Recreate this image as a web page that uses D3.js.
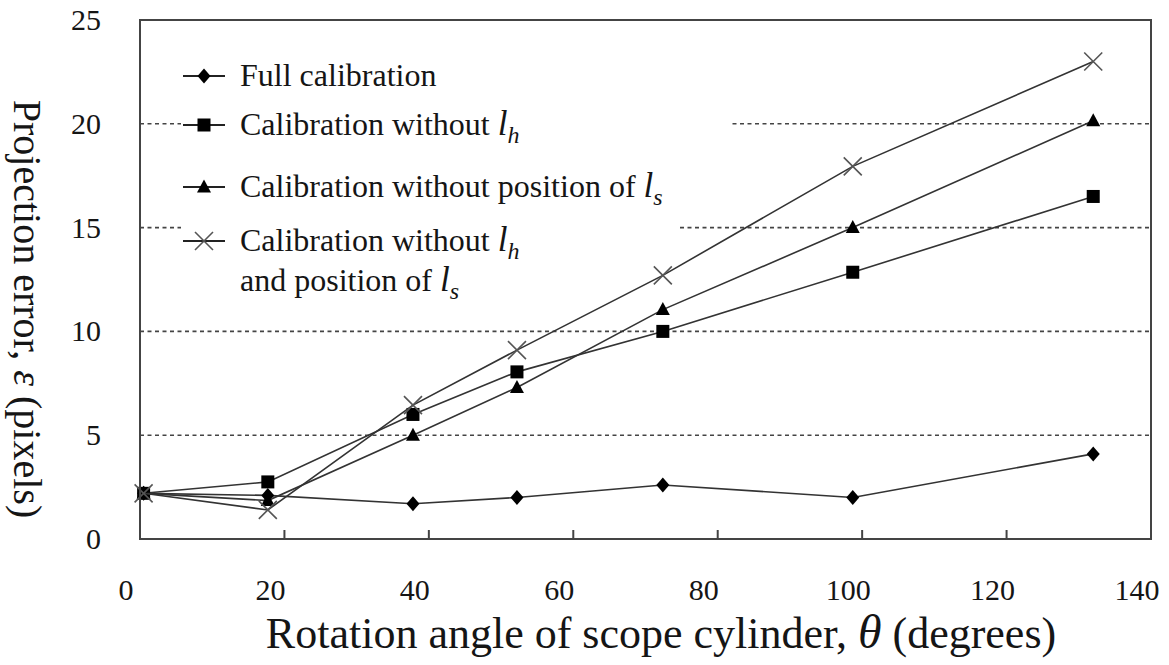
<!DOCTYPE html>
<html><head><meta charset="utf-8">
<script src="https://cdn.jsdelivr.net/npm/d3@7"></script>
<style>
body{margin:0;background:#fff}
text{font-family:"Liberation Serif","Times New Roman",serif;fill:#151515}
</style>
</head><body><svg id="c" width="1169" height="665"></svg>
<script>
// ---- data ----
const angles       = [0.5, 17.7, 37.8, 52.2, 72.4, 98.7, 132];
const fullCal      = [2.2, 2.1, 1.7, 2.0, 2.6, 2.0, 4.1];
const withoutLh    = [2.2, 2.75, 6.0, 8.05, 10.0, 12.85, 16.5];
const withoutLsPos = [2.2, 1.85, 5.0, 7.3, 11.05, 15.0, 20.15];
const withoutBoth  = [2.2, 1.4, 6.45, 9.1, 12.7, 17.95, 23.0];
const xTicks = [0, 20, 40, 60, 80, 100, 120, 140];
const yTicks = [0, 5, 10, 15, 20, 25];
const gridValues = [5, 10, 15, 20];
const markerKinds = ["diamond", "square", "triangle", "cross"];
const legendLines = [
  [["Full calibration", false]],
  [["Calibration without ", false], ["l", true, "h"]],
  [["Calibration without position of ", false], ["l", true, "s"]],
  [["Calibration without ", false], ["l", true, "h"]]
];
const legendExtra = [["and position of ", false], ["l", true, "s"]];
const xTitle = "Rotation angle of scope cylinder, ";
const yTitle = "Projection error, ";

const series = [fullCal, withoutLh, withoutLsPos, withoutBoth];

const svg = d3.select("#c");
const x = d3.scaleLinear().domain([0, 140]).range([140, 1151]);
const y = d3.scaleLinear().domain([0, 25]).range([539, 20]);

// gridlines
svg.append("g").selectAll("line").data(gridValues).join("line")
  .attr("x1", x(0)).attr("x2", x(140))
  .attr("y1", d => y(d)).attr("y2", d => y(d))
  .attr("stroke", "#444").attr("stroke-width", 1.6).attr("stroke-dasharray", "4,3.5");

// legend background (white patches over gridlines)
svg.append("rect").attr("x", 181).attr("y", 50).attr("width", 549).attr("height", 150).attr("fill", "#fff");
svg.append("rect").attr("x", 181).attr("y", 200).attr("width", 497).attr("height", 100).attr("fill", "#fff");

function marker(g, kind, cx, cy) {
  if (kind === "diamond") {
    g.append("path").attr("d", `M${cx},${cy-7.5}L${cx+6.5},${cy}L${cx},${cy+7.5}L${cx-6.5},${cy}Z`).attr("fill", "#000");
  } else if (kind === "square") {
    g.append("rect").attr("x", cx-6.5).attr("y", cy-6.5).attr("width", 13).attr("height", 13).attr("fill", "#000");
  } else if (kind === "triangle") {
    g.append("path").attr("d", `M${cx},${cy-7.5}L${cx+7},${cy+5.5}L${cx-7},${cy+5.5}Z`).attr("fill", "#000");
  } else {
    g.append("path").attr("d", `M${cx-9},${cy-9}L${cx+9},${cy+9}M${cx-9},${cy+9}L${cx+9},${cy-9}`)
      .attr("stroke", "#555").attr("stroke-width", 1.6).attr("fill", "none");
  }
}

// series
const line = d3.line().x((d, i) => x(angles[i])).y(d => y(d));
series.forEach((vals, si) => {
  const g = svg.append("g");
  g.append("path").datum(vals).attr("d", line).attr("fill", "none")
    .attr("stroke", "#333").attr("stroke-width", 1.6);
  vals.forEach((v, i) => marker(g, markerKinds[si], x(angles[i]), y(v)));
});

// frame
svg.append("rect").attr("x", x(0)).attr("y", y(25)).attr("width", x(140) - x(0)).attr("height", y(0) - y(25))
  .attr("fill", "none").attr("stroke", "#444").attr("stroke-width", 2);

// x ticks (inward)
svg.append("g").selectAll("line").data(xTicks.slice(1, -1)).join("line")
  .attr("x1", d => x(d)).attr("x2", d => x(d)).attr("y1", y(0)).attr("y2", y(0) - 9)
  .attr("stroke", "#444").attr("stroke-width", 2);

// tick labels
svg.append("g").selectAll("text").data(xTicks).join("text")
  .attr("x", d => x(d) - 14).attr("y", 600).attr("text-anchor", "middle")
  .attr("font-size", 30).text(d => d);
svg.append("g").selectAll("text").data(yTicks).join("text")
  .attr("x", 101).attr("y", d => y(d) + 10).attr("text-anchor", "end")
  .attr("font-size", 30).text(d => d);

// legend
function richText(t, parts, size) {
  parts.forEach(p => {
    const ts = t.append("tspan").text(p[0]);
    if (p[1]) {
      ts.attr("font-style", "italic").attr("font-size", size * 1.1);
      t.append("tspan").attr("font-style", "italic").attr("font-size", size * 0.75)
        .attr("dy", 8).text(p[2]);
    }
  });
}
const rowY = [76, 125, 187, 241];
legendLines.forEach((parts, i) => {
  const g = svg.append("g");
  g.append("line").attr("x1", 183).attr("x2", 225).attr("y1", rowY[i]).attr("y2", rowY[i])
    .attr("stroke", "#222").attr("stroke-width", 2.2);
  marker(g, markerKinds[i], 204, rowY[i]);
  const t = g.append("text").attr("x", 240).attr("y", rowY[i] + 10).attr("font-size", 32);
  richText(t, parts, 32);
});
{
  const t = svg.append("text").attr("x", 240).attr("y", 291).attr("font-size", 32);
  richText(t, legendExtra, 32);
}

// axis titles
{
  const t = svg.append("text").attr("x", 661).attr("y", 648).attr("text-anchor", "middle").attr("font-size", 44);
  t.append("tspan").text(xTitle);
  t.append("tspan").attr("font-style", "italic").attr("font-size", 48).text("θ");
  t.append("tspan").text(" (degrees)");
}
{
  const t = svg.append("text").attr("transform", "translate(14,309) rotate(90)")
    .attr("text-anchor", "middle").attr("font-size", 40);
  t.append("tspan").text(yTitle);
  t.append("tspan").attr("font-style", "italic").text("ε");
  t.append("tspan").text(" (pixels)");
}
</script>
</body></html>
